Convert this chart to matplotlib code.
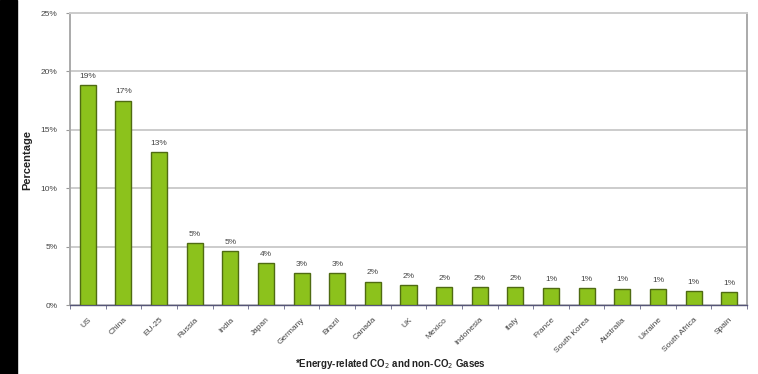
"""Share of global greenhouse gas emissions by country (bar chart)."""
import matplotlib
matplotlib.use("Agg")
import matplotlib.pyplot as plt
import numpy as np

countries = ["US", "China", "EU-25", "Russia", "India", "Japan", "Germany", "Brazil",
             "Canada", "UK", "Mexico", "Indonesia", "Italy", "France", "South Korea",
             "Australia", "Ukraine", "South Africa", "Spain"]
share = [18.8, 17.5, 13.1, 5.3, 4.6, 3.6, 2.7, 2.7, 2.0, 1.7, 1.55, 1.5, 1.5, 1.45,
         1.45, 1.4, 1.35, 1.2, 1.1]
share_labels = ["19%", "17%", "13%", "5%", "5%", "4%", "3%", "3%", "2%", "2%", "2%",
                "2%", "2%", "1%", "1%", "1%", "1%", "1%", "1%"]
yticks = [0, 5, 10, 15, 20, 25]

plt.rcParams["font.family"] = ["Liberation Sans", "DejaVu Sans"]

fig = plt.figure(figsize=(7.58, 3.74), dpi=100)
# black strip down the left edge of the scanned figure
fig.patches.append(plt.Rectangle((0, 0), 17 / 758, 1, transform=fig.transFigure,
                                 color="black", zorder=0))
ax = fig.add_axes([70 / 758, 1 - 305 / 374, 677 / 758, 292 / 374])

x = np.arange(len(countries))
ax.bar(x, share, width=0.45, color="#8cc21c", edgecolor="#4f6b12", linewidth=1.0, zorder=3)
for xi, v, lab in zip(x, share, share_labels):
    ax.text(xi, v + 0.45, lab, ha="center", va="bottom", fontsize=6, color="#444444")

ax.set_xlim(-0.5, len(countries) - 0.5)
ax.set_ylim(0, 25)
ax.set_yticks(yticks)
ax.set_yticklabels([f"{t}%" for t in yticks], fontsize=6, color="#444444")
ax.yaxis.grid(True, color="#cccccc", lw=1.4, zorder=0)
ax.tick_params(axis="y", length=3, color="#999999", pad=6)

ax.set_xticks(x)
ax.set_xticklabels(countries, rotation=45, ha="right", rotation_mode="anchor",
                   fontsize=6, color="#444444")
ax.tick_params(axis="x", length=0, pad=8)
ax.set_xticks(np.arange(len(countries) + 1) - 0.5, minor=True)
ax.tick_params(axis="x", which="minor", length=3, color="#666688")

for side in ["left", "right"]:
    ax.spines[side].set_color("#aaaaaa")
    ax.spines[side].set_linewidth(1.4)
ax.spines["top"].set_color("#cccccc")
ax.spines["top"].set_linewidth(1.4)
ax.spines["bottom"].set_color("#555577")
ax.spines["bottom"].set_linewidth(1.0)

fig.text(27 / 758, 1 - 160 / 374, "Percentage", rotation=90, ha="center", va="center",
         fontsize=8, fontweight="bold", color="#222222")
fig.text(390 / 758, 1 - 364 / 374, "*Energy-related CO$_2$ and non-CO$_2$ Gases",
         ha="center", va="center", fontsize=7, fontweight="bold", color="#222222")

fig.savefig("out.png", dpi=100)
plt.close(fig)
